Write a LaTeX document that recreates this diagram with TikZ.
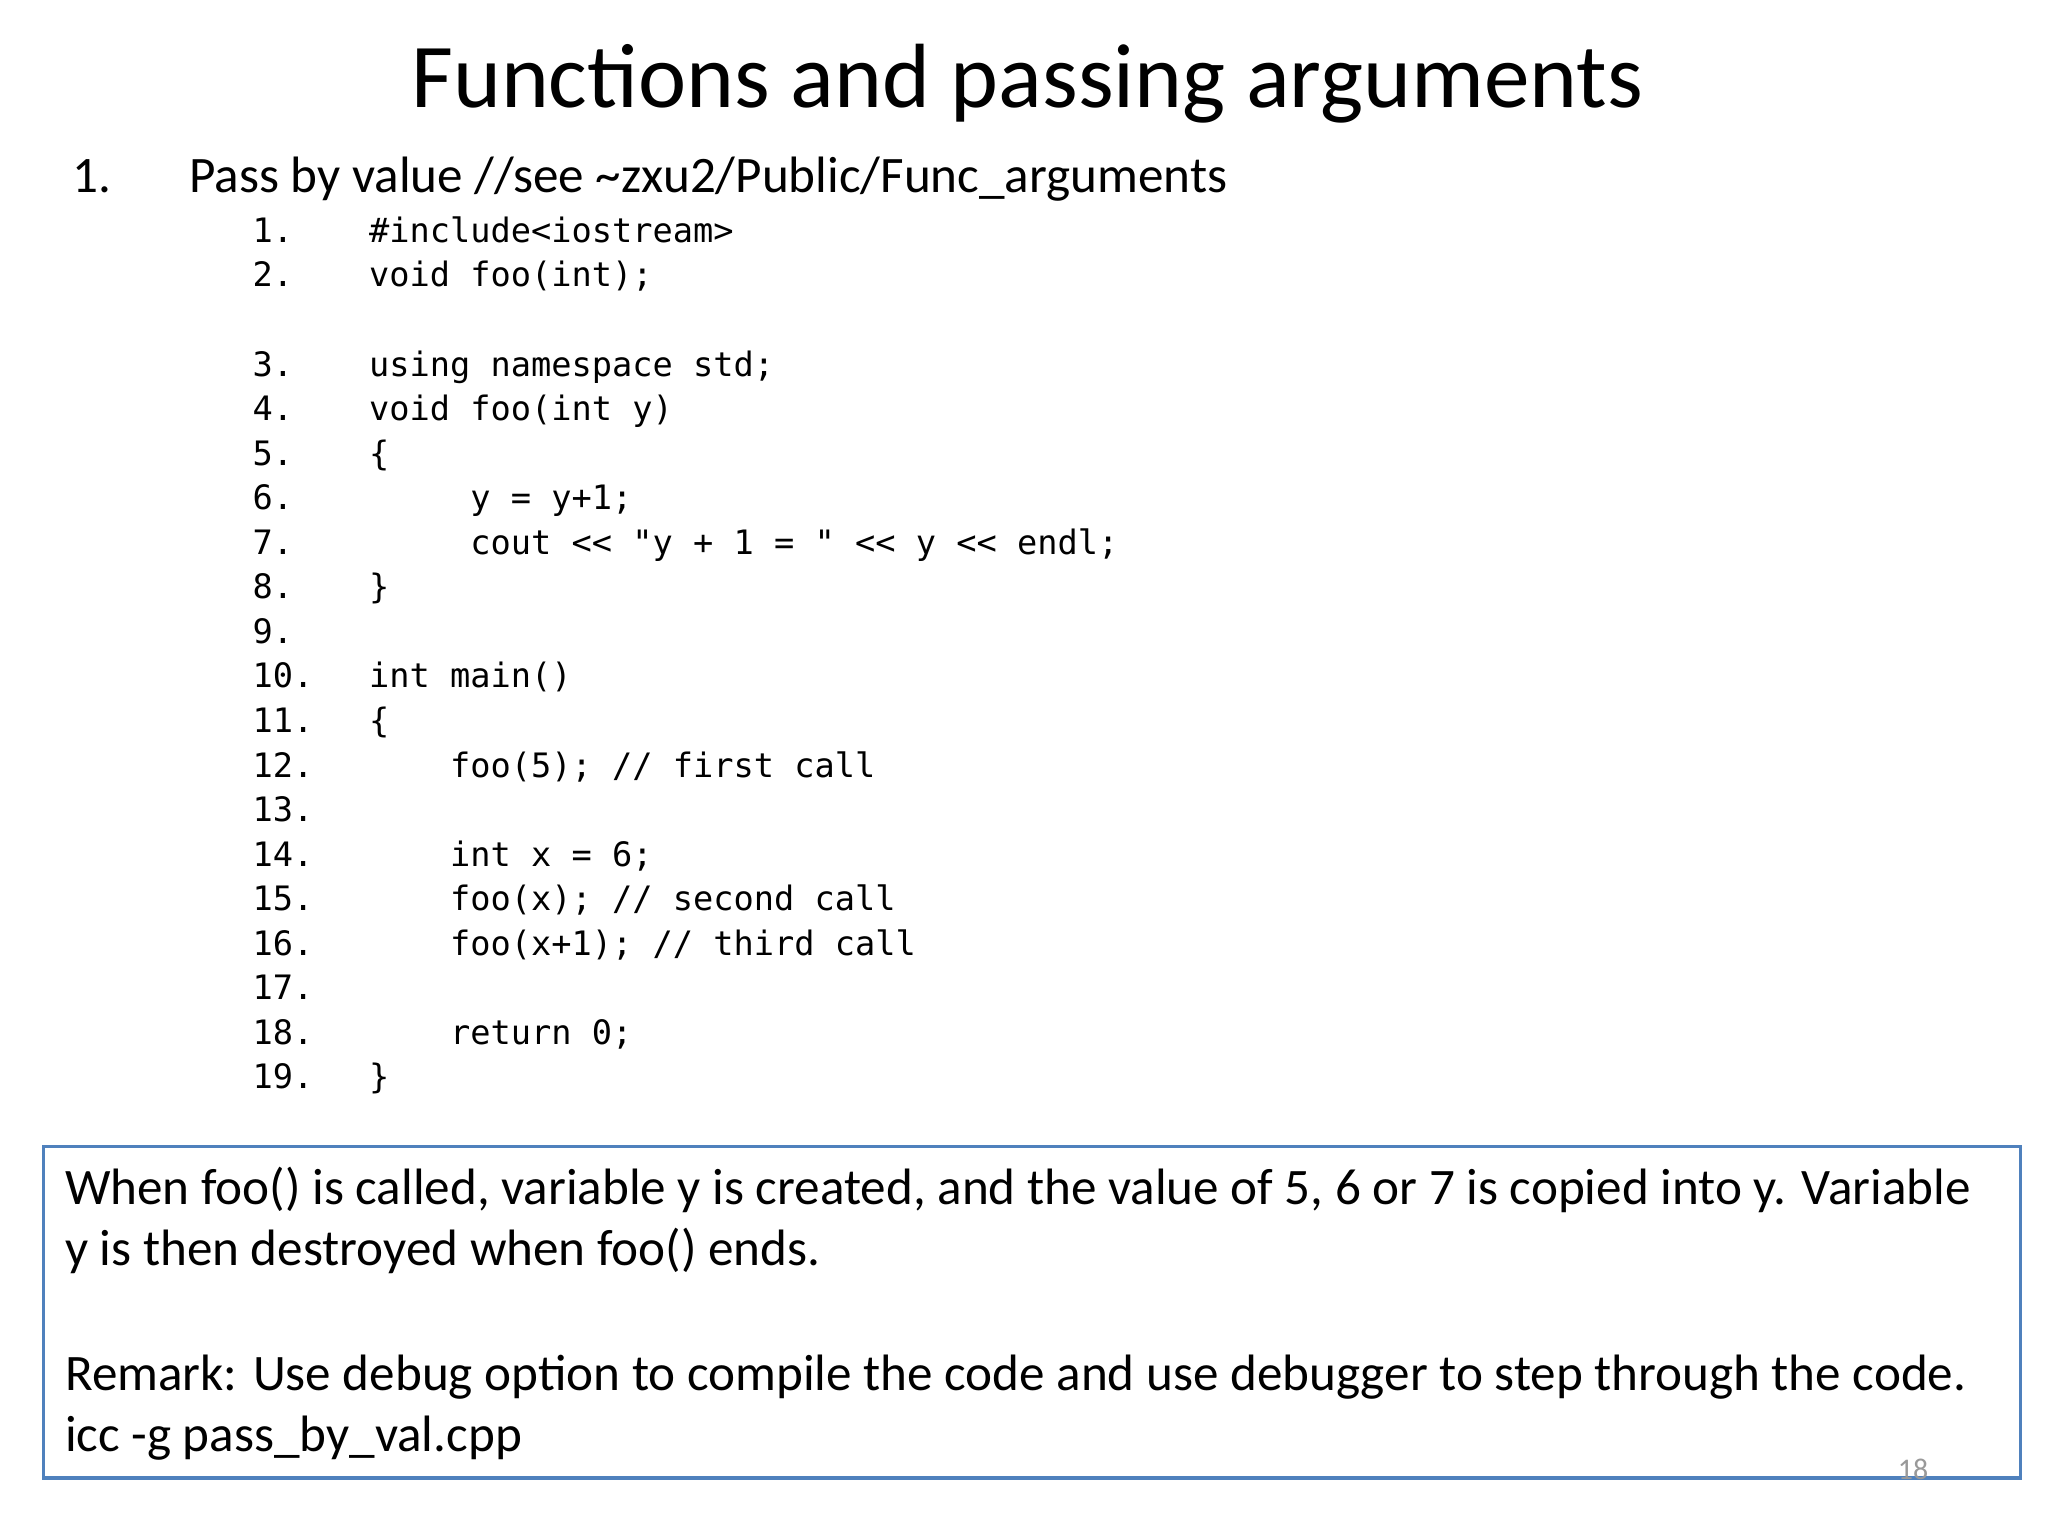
\documentclass[tikz,border=0pt]{standalone}
\usepackage{fontspec}
\setmainfont{Carlito}
\setmonofont{DejaVu Sans Mono}
\begin{document}
\begin{tikzpicture}[x=0.01cm,y=-0.01cm,
  code/.style={anchor=base west,inner sep=0pt,font=\ttfamily\fontsize{7.3}{8}\selectfont},
  body/.style={anchor=base west,inner sep=0pt,font=\fontsize{11.1}{13}\selectfont}]
\useasboundingbox[fill=white] (0,0) rectangle (1563,1172);
\node[inner sep=0pt,font=\fontsize{19.8}{22}\selectfont] (title) at (784,64) {Functions and passing arguments};
\node[body] (n1) at (55,147) {1.};
\node[body] (sub) at (144,147) {Pass by value //see \char`~zxu2/Public/Func\_arguments};
\foreach \n/\y/\t in {
 1/185/{\#include<iostream>},
 2/219/{void foo(int);},
 3/287/{using namespace std;},
 4/321/{void foo(int y)},
 5/355/{\{},
 6/389/{\ \ \ \ \ y = y+1;},
 7/423/{\ \ \ \ \ cout << "y + 1 = " << y << endl;},
 8/457/{\}},
 9/491/{},
 10/525/{int main()},
 11/559/{\{},
 12/593/{\ \ \ \ foo(5); // first call},
 13/627/{},
 14/661/{\ \ \ \ int x = 6;},
 15/695/{\ \ \ \ foo(x); // second call},
 16/729/{\ \ \ \ foo(x+1); // third call},
 17/763/{},
 18/797/{\ \ \ \ return 0;},
 19/831/{\}}}{
  \node[code] (num\n) at (192,\y) {\n.};
  \node[code] (line\n) at (281,\y) {\t};
}
\draw[draw={rgb,255:red,79;green,129;blue,189},line width=0.7pt] (33,875) rectangle (1542,1128);
\node[body] (t1) at (49,919) {When foo() is called, variable y is created, and the value of 5, 6 or 7 is copied into y. Variable};
\node[body] (t2) at (49,966) {y is then destroyed when foo() ends.};
\node[body] (t3) at (49,1061) {Remark: Use debug option to compile the code and use debugger to step through the code.};
\node[body] (t4) at (49,1108) {icc -g pass\_by\_val.cpp};
\node[anchor=base,inner sep=0pt,text=gray!80,font=\fontsize{6.5}{8}\selectfont] (pg) at (1460,1129) {18};
\end{tikzpicture}
\end{document}
